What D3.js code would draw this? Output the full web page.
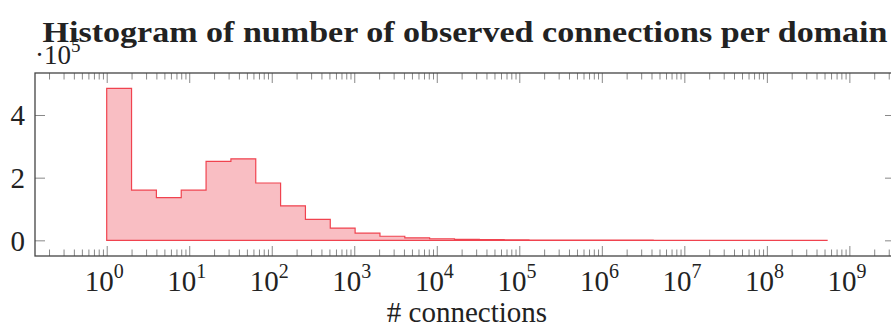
<!DOCTYPE html>
<html>
<head>
<meta charset="utf-8">
<script src="https://cdn.jsdelivr.net/npm/d3@7"></script>
<style>
  body { margin: 0; background: #fff; }
  text { font-family: "Liberation Serif", "DejaVu Serif", serif; fill: #222; }
</style>
</head>
<body>
<svg id="chart" width="891" height="328"></svg>
<script>
// bin edges are powers of two: 2^0 .. 2^29
binEdges = d3.range(0, 30).map(k => Math.pow(2, k));
// counts per bin, in units of 10^5
binCounts = [4.85, 1.60, 1.36, 1.60, 2.52, 2.60, 1.83, 1.10, 0.67, 0.39,
             0.23, 0.13, 0.08, 0.05, 0.03, 0.02, 0.015, 0.01, 0.008, 0.006,
             0.005, 0.004, 0.003, 0.003, 0.002, 0.002, 0.002, 0.001, 0.001];
xMajor = d3.range(0, 10).map(k => Math.pow(10, k));
yMajor = [0, 2, 4];

let svg = d3.select("#chart");

let plotLeft = 35, plotRight = 895, plotTop = 73, plotBottom = 256;

let x = d3.scaleLog()
    .domain([Math.pow(10, -0.869), Math.pow(10, 9.553)])
    .range([plotLeft, plotRight]);
let y = d3.scaleLinear()
    .domain([-0.5, 5.34])
    .range([plotBottom, plotTop]);

// minor ticks 2..9 x 10^k
let xMinor = [];
for (let k = -1; k < 10; k++) {
    for (let m = 2; m < 10; m++) {
        let v = m * Math.pow(10, k);
        if (v > x.domain()[0] && v < x.domain()[1]) xMinor.push(v);
    }
}

// histogram as a closed step area
let pts = [[binEdges[0], 0]];
binCounts.forEach((c, i) => {
    pts.push([binEdges[i], c]);
    pts.push([binEdges[i + 1], c]);
});
pts.push([binEdges[binEdges.length - 1], 0]);

svg.append("path")
    .attr("d", d3.line().x(d => x(d[0])).y(d => y(d[1]))(pts) + "Z")
    .attr("fill", "#f9bec3")
    .attr("stroke", "#f0434f")
    .attr("stroke-width", 1.2)
    .attr("stroke-linejoin", "miter");

// ticks (inward, on all four sides)
function styleTicks(g) {
    g.select(".domain").remove();
    g.selectAll(".tick line").attr("stroke", "#888").attr("stroke-width", 1);
}

svg.append("g").attr("transform", `translate(0,${plotBottom})`)
    .call(d3.axisBottom(x).tickValues(xMinor).tickSize(-6.5).tickFormat(""))
    .call(styleTicks);
svg.append("g").attr("transform", `translate(0,${plotTop})`)
    .call(d3.axisTop(x).tickValues(xMinor).tickSize(-6.5).tickFormat(""))
    .call(styleTicks);
svg.append("g").attr("transform", `translate(0,${plotTop})`)
    .call(d3.axisTop(x).tickValues(xMajor).tickSize(-10).tickFormat(""))
    .call(styleTicks);

let xAxis = svg.append("g").attr("transform", `translate(0,${plotBottom})`)
    .call(d3.axisBottom(x).tickValues(xMajor).tickSize(-10).tickPadding(25))
    .call(styleTicks);
xAxis.attr("font-family", null);
xAxis.selectAll(".tick text").each(function(d) {
    let t = d3.select(this);
    let e = Math.round(Math.log10(d));
    t.text("").attr("font-size", 29).attr("fill", "#222").attr("dy", null)
        .attr("y", 35).attr("dx", "-0.1em");
    t.append("tspan").text("10");
    t.append("tspan").text(e).attr("font-size", 20).attr("dy", -13);
});

let yAxis = svg.append("g").attr("transform", `translate(${plotLeft},0)`)
    .call(d3.axisLeft(y).tickValues(yMajor).tickSize(-10).tickFormat(d3.format("d")))
    .call(styleTicks);
yAxis.attr("font-family", null);
yAxis.selectAll(".tick text")
    .attr("font-size", 29).attr("fill", "#222")
    .attr("x", -10).attr("dy", "0.34em");

svg.append("g").attr("transform", `translate(${plotRight},0)`)
    .call(d3.axisRight(y).tickValues(yMajor).tickSize(-10).tickFormat(""))
    .call(styleTicks);

// frame
svg.append("rect")
    .attr("x", plotLeft).attr("y", plotTop)
    .attr("width", plotRight - plotLeft).attr("height", plotBottom - plotTop)
    .attr("fill", "none").attr("stroke", "#444").attr("stroke-width", 1.3);

// scale factor label
let sf = svg.append("text").attr("x", 35).attr("y", 64).attr("font-size", 27);
sf.append("tspan").text("·10");
sf.append("tspan").text("5").attr("font-size", 19).attr("dy", -12);

// title
svg.append("text")
    .attr("x", 465).attr("y", 42)
    .attr("text-anchor", "middle")
    .attr("font-size", 29).attr("font-weight", "bold")
    .attr("textLength", 845).attr("lengthAdjust", "spacingAndGlyphs")
    .text("Histogram of number of observed connections per domain");

// x label
svg.append("text")
    .attr("x", 467).attr("y", 322)
    .attr("text-anchor", "middle")
    .attr("font-family", "Liberation Serif")
    .attr("font-size", 29)
    .text("# connections");
</script>
</body>
</html>
